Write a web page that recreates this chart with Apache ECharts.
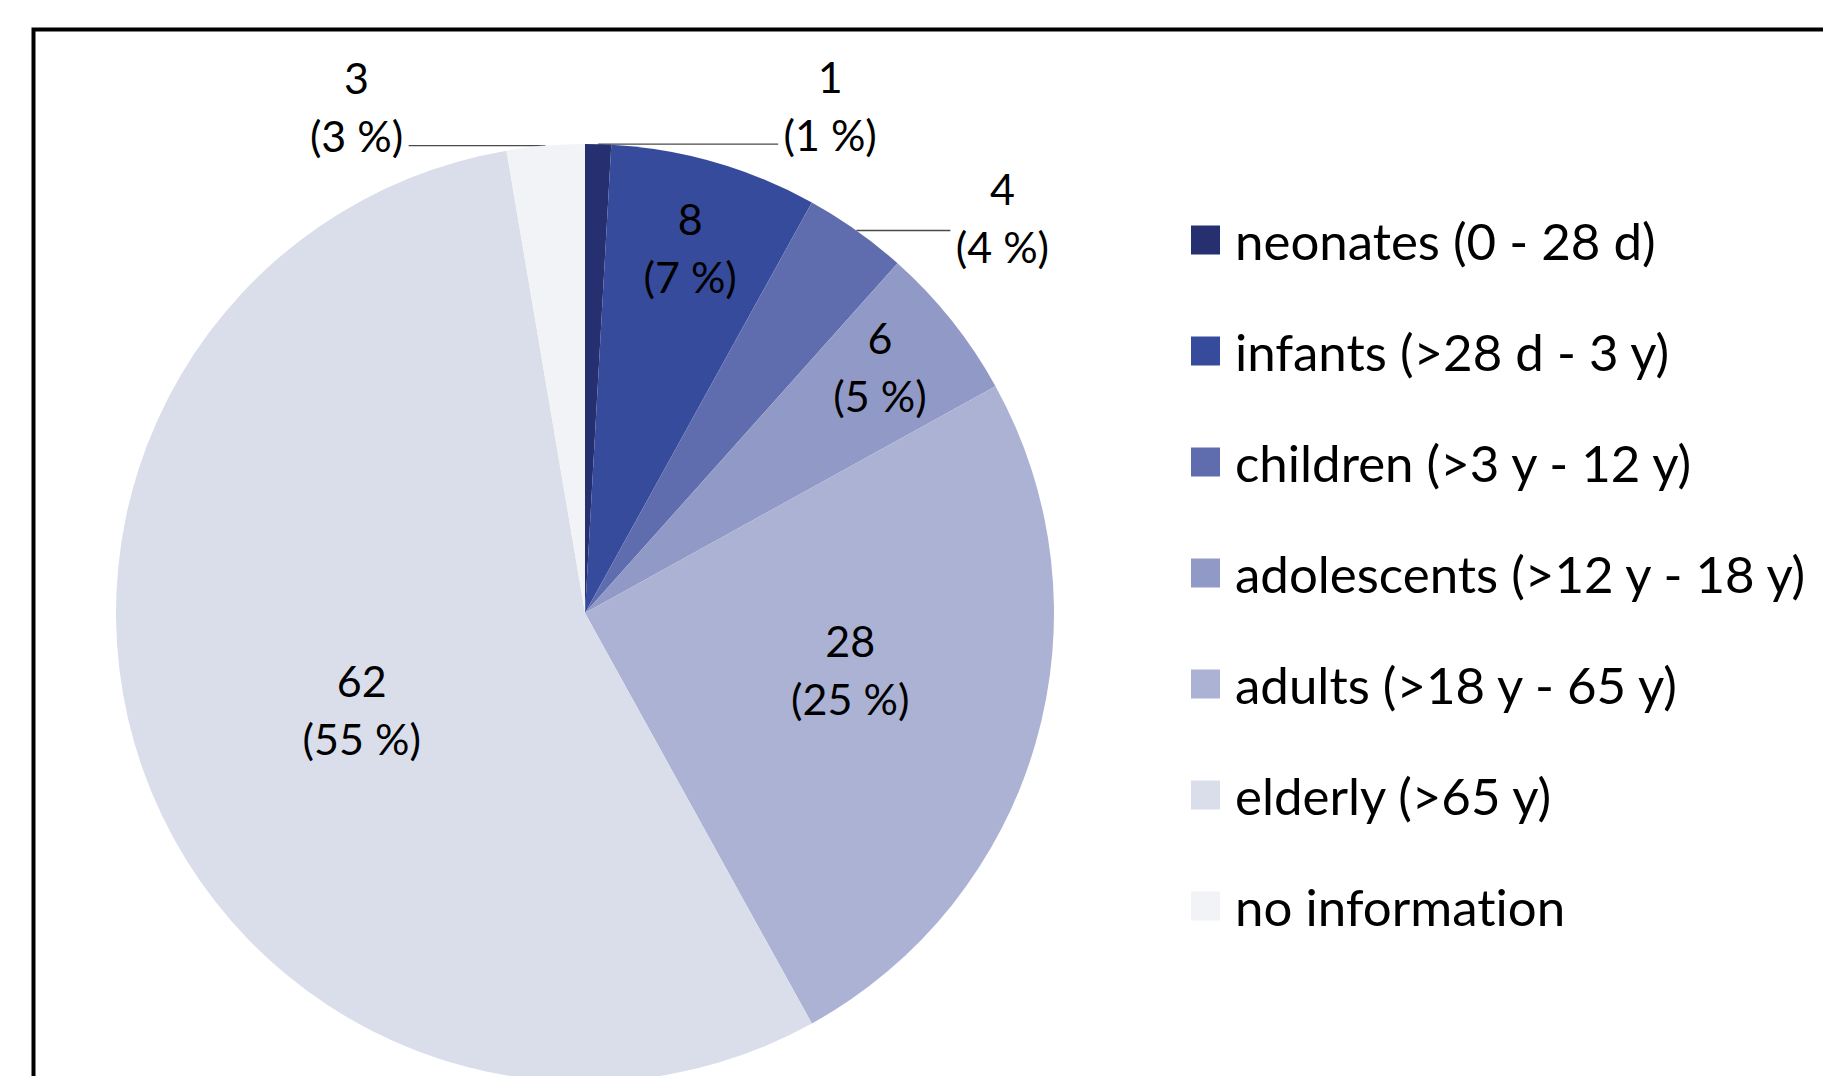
<!DOCTYPE html>
<html><head><meta charset="utf-8">
<script src="https://cdn.jsdelivr.net/npm/echarts@6/dist/echarts.min.js"></script>
<style>html,body{margin:0;padding:0;background:#fff}#c{width:1823px;height:1076px}
#c text{font-variant-ligatures:none;font-feature-settings:"liga" 0,"clig" 0}</style>
</head><body><div id="c"></div>
<script>
// ---- data ----
const categories = ['neonates (0 - 28 d)', 'infants (>28 d - 3 y)', 'children (>3 y - 12 y)',
  'adolescents (>12 y - 18 y)', 'adults (>18 y - 65 y)', 'elderly (>65 y)', 'no information'];
const counts = [1, 8, 4, 6, 28, 62, 3];

// ---- style / layout config ----
const colors = ['#262F6F', '#364B9C', '#5F6DAE', '#919AC7', '#ABB2D4', '#DADEEB', '#F2F3F7'];
const FONT = 'Lato';
const CX = 585, CY = 613, R = 469;
// labels drawn inside slices: [fraction of slice angle, fraction of radius]
const insideLabelPos = [null, [0.5, 0.81], null, [0.43, 0.82], [0.454, 0.578], [0.479, 0.519], null];
// labels drawn outside: horizontal leader length and bottom padding (vertical offset of text vs leader)
const leaderLength2 = [180, null, 94, null, null, null, 137];
const outsidePadBottom = [78, null, 26, null, null, null, 78];

const LABEL_SIZE = 43, LABEL_LH = 58;

const total = counts.reduce((a, b) => a + b, 0);
const startAngles = [];
counts.reduce((acc, v) => { startAngles.push(acc / total * 360); return acc + v; }, 0);

const pieData = categories.map((name, i) => {
  const outside = insideLabelPos[i] == null;
  return {
    name: name,
    value: counts[i],
    itemStyle: { color: colors[i] },
    label: outside ? {
      position: 'outside',
      padding: [0, 0, outsidePadBottom[i], 0],
      distanceToLabelLine: 6,
      formatter: p => '{a|' + p.value + '}\n{a|(' + Math.round(p.percent) + ' %)}',
      rich: { a: { width: 92, align: 'center', fontFamily: FONT, fontSize: LABEL_SIZE, lineHeight: LABEL_LH, color: '#000' } }
    } : {
      position: 'inside',
      formatter: p => p.value + '\n(' + Math.round(p.percent) + ' %)'
    },
    labelLine: outside ? { show: true, length: 0, length2: leaderLength2[i] } : { show: false }
  };
});

const chart = echarts.init(document.getElementById('c'), null, { renderer: 'svg' });
chart.setOption({
  animation: false,
  backgroundColor: '#ffffff',
  graphic: [{
    type: 'rect', left: 31, top: 27, z: 100,
    shape: { x: 0, y: 0, width: 2200, height: 2200 },
    style: { fill: 'none', stroke: '#000', lineWidth: 4 },
    silent: true
  }],
  legend: {
    orient: 'vertical', left: 1186, top: 205,
    icon: 'rect', itemWidth: 29, itemHeight: 29, itemGap: 51,
    selectedMode: false,
    textStyle: { fontFamily: FONT, fontSize: 51, color: '#000', lineHeight: 60, padding: [0, 0, 0, 10] },
    data: categories
  },
  series: [{
    type: 'pie',
    center: [CX, CY],
    radius: R,
    startAngle: 90,
    clockwise: true,
    avoidLabelOverlap: false,
    itemStyle: { borderWidth: 0 },
    label: { fontFamily: FONT, fontSize: LABEL_SIZE, lineHeight: LABEL_LH, color: '#000' },
    labelLine: { lineStyle: { color: '#4a4a4a', width: 1.3 }, smooth: false },
    emphasis: { disabled: true },
    labelLayout: function (p) {
      const i = p.dataIndex;
      const pos = insideLabelPos[i];
      if (!pos) return {};
      const a0 = startAngles[i];
      const span = counts[i] / total * 360;
      const th = (a0 + span * pos[0]) * Math.PI / 180;
      return { x: CX + pos[1] * R * Math.sin(th), y: CY - pos[1] * R * Math.cos(th) };
    },
    data: pieData
  }]
});
</script>
</body></html>
